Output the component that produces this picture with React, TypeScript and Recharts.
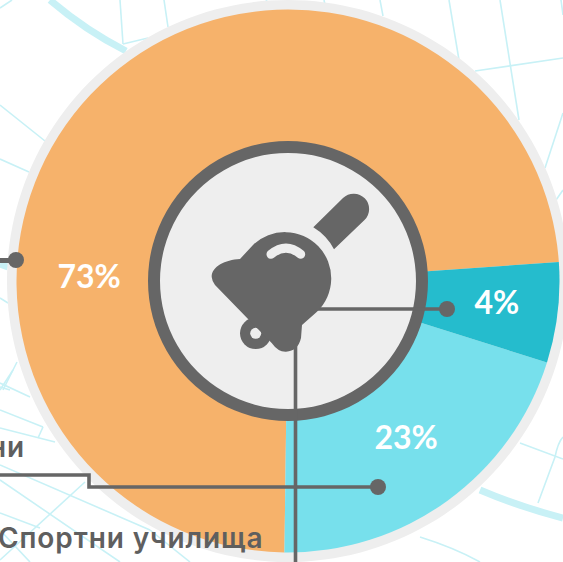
import { PieChart, Pie, Cell } from "recharts";

const categories = ["Orange", "Light", "Teal"];
// slice sizes as drawn (the printed percentages do not quite match the arcs)
const sliceValues = [73.68, 20.36, 5.96];
const percentLabels = ["73%", "23%", "4%"];
const sliceColors = ["#f6b26b", "#77e0ec", "#25bccd"];
const textLines = ["ни", "Спортни училища"];

const pieData = categories.map((name, i) => ({ name, value: sliceValues[i] }));
const ringData = [{ name: "ring", value: 1 }];

const CX = 288;
const CY = 281;
const DARK = "#666666";
const MAP = "#c8f1f6";
const LIGHT = "#eeeeee";

// where each percent label sits, polar around the centre (screen degrees)
const labelAngle = [181.7, 52.7, 5.7];
const labelRadius = [199, 195, 210];

const mapLines = [
  "M0 8L12 0", "M120 0L123 44", "M164 0L168 27", "M123 44L148 38", "M0 105L45 141", "M0 159L29 172",
  "M267 0L264 4", "M324 0L325 5", "M380 0L383 16",
  "M449 0L459 60", "M500 0L519 120", "M475 71L563 58", "M561 0L563 15", "M563 113L545 168", "M556 200L563 190",
  "M520 443L563 459", "M538 503L555 457Q558 442 563 437", "M420 537Q455 548 480 562",
  "M0 298L8 303", "M17 362L3 390", "M0 387L10 390", "M13 370L0 390", "M0 383L30 397", "M0 410L43 427", "M0 428L55 442",
  "M43 427L38 438", "M0 465L150 530", "M0 480L120 562", "M85 482L0 560", "M0 513L40 528",
  "M150 530L190 562", "M0 530L30 562",
];
const mapBands = ["M50 0Q85 30 126 51", "M480 490Q520 507 563 518", "M0 264L8 267"];

function renderPercent(props: any) {
  const i = props.index;
  const rad = (labelAngle[i] * Math.PI) / 180;
  return (
    <text
      x={props.cx + labelRadius[i] * Math.cos(rad)}
      y={props.cy + labelRadius[i] * Math.sin(rad)}
      fill="#ffffff"
      fontFamily="Lato"
      fontWeight={700}
      fontSize={32}
      textAnchor="middle"
      dominantBaseline="central"
    >
      {percentLabels[i]}
    </text>
  );
}

export default function App() {
  return (
    <div style={{ position: "absolute", left: 0, top: 0, width: 563, height: 562, overflow: "hidden", background: "#fff" }}>
      <svg width={563} height={562} style={{ position: "absolute", left: 0, top: 0 }}>
        {mapLines.map((d) => <path key={d} d={d} fill="none" stroke={MAP} strokeWidth={1.6} />)}
        {mapBands.map((d) => <path key={d} d={d} fill="none" stroke={MAP} strokeWidth={7} />)}
      </svg>
      <div style={{ position: "absolute", left: 0, top: 0 }}>
        <PieChart width={563} height={562} margin={{ top: 0, right: 0, bottom: 0, left: 0 }}>
          <Pie data={ringData} dataKey="value" cx={CX} cy={CY} innerRadius={0} outerRadius={281} stroke="none" fill={LIGHT} isAnimationActive={false} />
          <Pie
            data={pieData}
            dataKey="value"
            cx={CX}
            cy={CY}
            innerRadius={0}
            outerRadius={271.5}
            startAngle={4}
            endAngle={364}
            stroke="none"
            label={renderPercent}
            labelLine={false}
            isAnimationActive={false}
          >
            {pieData.map((d, i) => <Cell key={d.name} fill={sliceColors[i]} stroke="none" />)}
          </Pie>
          <Pie data={ringData} dataKey="value" cx={CX} cy={CY} innerRadius={0} outerRadius={140} stroke="none" fill={DARK} isAnimationActive={false} />
          <Pie data={ringData} dataKey="value" cx={CX} cy={CY} innerRadius={0} outerRadius={128} stroke="none" fill={LIGHT} isAnimationActive={false} />
        </PieChart>
      </div>
      <svg width={563} height={562} style={{ position: "absolute", left: 0, top: 0 }}>
        {/* leader lines */}
        <g fill="none" stroke={DARK} strokeWidth={3.6}>
          <path d="M312 309H447" />
          <path d="M295.5 340V562" />
          <path d="M378 487H89V475H0" />
          <path d="M0 260.5H16" strokeWidth={5} />
        </g>
        <circle cx={16} cy={260} r={8} fill={DARK} />
        <circle cx={447} cy={309} r={8} fill={DARK} />
        <circle cx={378} cy={487} r={8} fill={DARK} />
        {/* bell */}
        <circle cx={255.7} cy={333.3} r={15.7} fill={DARK} />
        <circle cx={255.7} cy={333.3} r={5.5} fill={LIGHT} />
        <path
          d="M240 259C225 260 212 266 211.7 277Q212 281 215 285L249 320L271.7 343Q278 352 286 351.7Q298 351 301 338L302 325L317 311.7A45.7 45.7 0 1 0 253 245Z"
          fill={DARK}
        />
        <path d="M271 254.3Q286 242 300.7 254.3" fill="none" stroke={LIGHT} strokeWidth={9} strokeLinecap="round" />
        <path d="M313.3 227.3L343 198A15 15 0 0 1 364.5 220L334 249.3A56 56 0 0 0 313.3 227.3Z" fill={DARK} />
        <g fill="#5f5f5f" fontFamily="Inter" fontWeight={600} fontSize={28} letterSpacing={0.9}>
          <text x={-11} y={457}>{textLines[0]}</text>
          <text x={-2} y={548}>{textLines[1]}</text>
        </g>
      </svg>
    </div>
  );
}
